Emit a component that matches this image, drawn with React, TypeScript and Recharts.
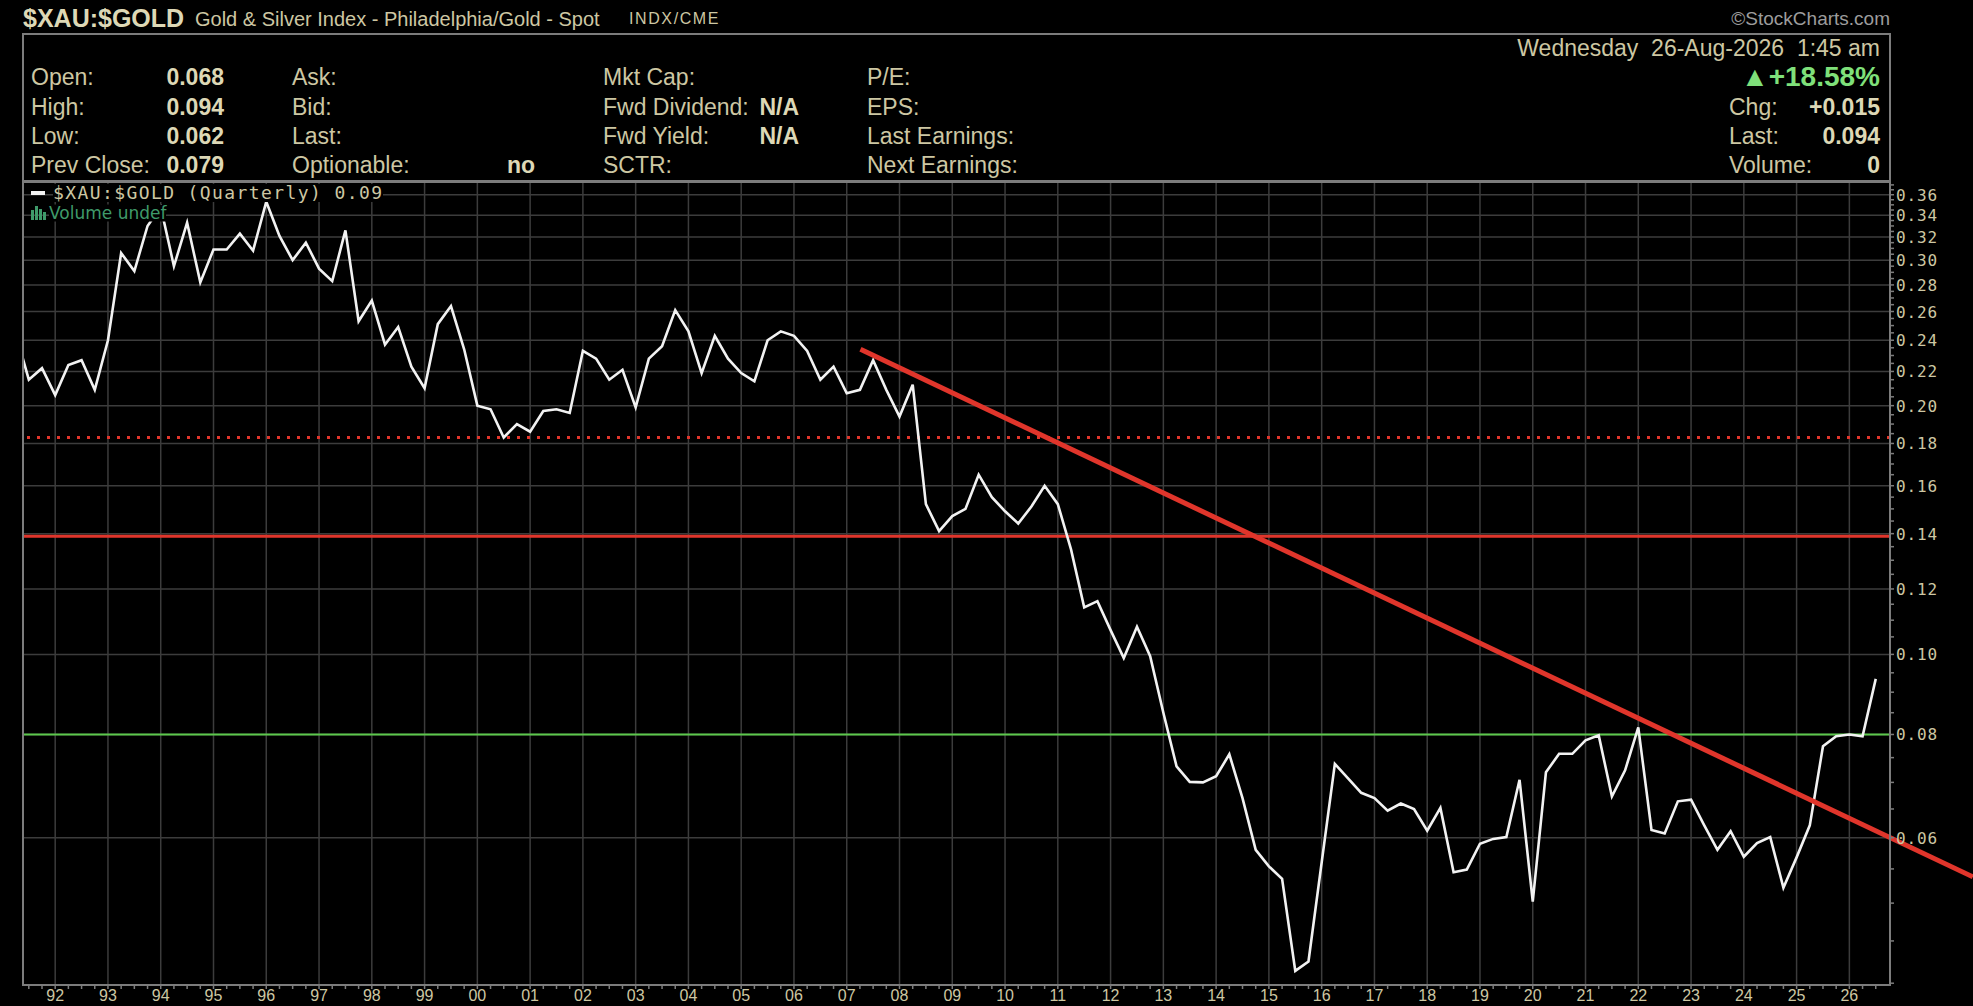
import React from "react";
import {
  LineChart,
  Line,
  XAxis,
  YAxis,
  CartesianGrid,
  ReferenceLine,
} from "recharts";

// quarterly closes of the $XAU:$GOLD ratio
const quarterLabels = [
  "1991Q2", "1991Q3", "1991Q4",
  "1992Q1", "1992Q2", "1992Q3", "1992Q4",
  "1993Q1", "1993Q2", "1993Q3", "1993Q4",
  "1994Q1", "1994Q2", "1994Q3", "1994Q4",
  "1995Q1", "1995Q2", "1995Q3", "1995Q4",
  "1996Q1", "1996Q2", "1996Q3", "1996Q4",
  "1997Q1", "1997Q2", "1997Q3", "1997Q4",
  "1998Q1", "1998Q2", "1998Q3", "1998Q4",
  "1999Q1", "1999Q2", "1999Q3", "1999Q4",
  "2000Q1", "2000Q2", "2000Q3", "2000Q4",
  "2001Q1", "2001Q2", "2001Q3", "2001Q4",
  "2002Q1", "2002Q2", "2002Q3", "2002Q4",
  "2003Q1", "2003Q2", "2003Q3", "2003Q4",
  "2004Q1", "2004Q2", "2004Q3", "2004Q4",
  "2005Q1", "2005Q2", "2005Q3", "2005Q4",
  "2006Q1", "2006Q2", "2006Q3", "2006Q4",
  "2007Q1", "2007Q2", "2007Q3", "2007Q4",
  "2008Q1", "2008Q2", "2008Q3", "2008Q4",
  "2009Q1", "2009Q2", "2009Q3", "2009Q4",
  "2010Q1", "2010Q2", "2010Q3", "2010Q4",
  "2011Q1", "2011Q2", "2011Q3", "2011Q4",
  "2012Q1", "2012Q2", "2012Q3", "2012Q4",
  "2013Q1", "2013Q2", "2013Q3", "2013Q4",
  "2014Q1", "2014Q2", "2014Q3", "2014Q4",
  "2015Q1", "2015Q2", "2015Q3", "2015Q4",
  "2016Q1", "2016Q2", "2016Q3", "2016Q4",
  "2017Q1", "2017Q2", "2017Q3", "2017Q4",
  "2018Q1", "2018Q2", "2018Q3", "2018Q4",
  "2019Q1", "2019Q2", "2019Q3", "2019Q4",
  "2020Q1", "2020Q2", "2020Q3", "2020Q4",
  "2021Q1", "2021Q2", "2021Q3", "2021Q4",
  "2022Q1", "2022Q2", "2022Q3", "2022Q4",
  "2023Q1", "2023Q2", "2023Q3", "2023Q4",
  "2024Q1", "2024Q2", "2024Q3", "2024Q4",
  "2025Q1", "2025Q2", "2025Q3", "2025Q4",
  "2026Q1", "2026Q2", "2026Q3",
];

const ratioValues = [
  0.245, 0.215, 0.222,
  0.206, 0.224, 0.227, 0.209,
  0.240, 0.306, 0.291, 0.330,
  0.348, 0.295, 0.333, 0.282,
  0.309, 0.309, 0.323, 0.308,
  0.353, 0.321, 0.300, 0.315,
  0.293, 0.283, 0.326, 0.253,
  0.268, 0.237, 0.249, 0.223,
  0.210, 0.251, 0.264, 0.234,
  0.200, 0.198, 0.183, 0.190,
  0.186, 0.197, 0.198, 0.196,
  0.233, 0.228, 0.215, 0.221,
  0.199, 0.228, 0.236, 0.261,
  0.246, 0.219, 0.243, 0.228,
  0.219, 0.214, 0.240, 0.246,
  0.243, 0.233, 0.215, 0.223,
  0.207, 0.209, 0.227, 0.209,
  0.194, 0.212, 0.152, 0.141,
  0.147, 0.150, 0.165, 0.155,
  0.149, 0.144, 0.151, 0.160,
  0.152, 0.134, 0.114, 0.116,
  0.107, 0.099, 0.108, 0.0995,
  0.085, 0.0732, 0.0701, 0.070,
  0.0712, 0.0757, 0.067, 0.058,
  0.0554, 0.0535, 0.0414, 0.0425,
  0.056, 0.0737, 0.0708, 0.068,
  0.067, 0.0647, 0.066, 0.065,
  0.0612, 0.0652, 0.0545, 0.0549,
  0.059, 0.0598, 0.0601, 0.0705,
  0.0502, 0.072, 0.0758, 0.0758,
  0.0787, 0.0798, 0.0673, 0.0724,
  0.0816, 0.0613, 0.0607, 0.0664,
  0.0667, 0.0621, 0.058, 0.0611,
  0.0569, 0.0591, 0.0601, 0.0522,
  0.0568, 0.0621, 0.0774, 0.0796,
  0.080, 0.0796, 0.0934,
];

const yearTicks = [
  1992, 1993, 1994, 1995, 1996, 1997, 1998, 1999, 2000, 2001, 2002, 2003,
  2004, 2005, 2006, 2007, 2008, 2009, 2010, 2011, 2012, 2013, 2014, 2015,
  2016, 2017, 2018, 2019, 2020, 2021, 2022, 2023, 2024, 2025, 2026,
];
const yearLabels = [
  "92", "93", "94", "95", "96", "97", "98", "99", "00", "01", "02", "03",
  "04", "05", "06", "07", "08", "09", "10", "11", "12", "13", "14", "15",
  "16", "17", "18", "19", "20", "21", "22", "23", "24", "25", "26",
];

const priceTicks = [
  0.06, 0.08, 0.1, 0.12, 0.14, 0.16, 0.18, 0.2, 0.22, 0.24, 0.26, 0.28, 0.3,
  0.32, 0.34, 0.36,
];
const priceLabels = [
  "0.06", "0.08", "0.10", "0.12", "0.14", "0.16", "0.18", "0.20", "0.22",
  "0.24", "0.26", "0.28", "0.30", "0.32", "0.34", "0.36",
];

// horizontal levels and the falling trend line drawn on the chart
const resistanceDotted = 0.183;
const resistanceSolid = 0.139;
const supportGreen = 0.08;
const trendStart = { x: 2007.26, y: 0.234 };
const trendEnd = { x: 2028.34, y: 0.0538 };

const infoLabels = [
  ["Open:", "High:", "Low:", "Prev Close:"],
  ["Ask:", "Bid:", "Last:", "Optionable:"],
  ["Mkt Cap:", "Fwd Dividend:", "Fwd Yield:", "SCTR:"],
  ["P/E:", "EPS:", "Last Earnings:", "Next Earnings:"],
];
const ohlcValues = ["0.068", "0.094", "0.062", "0.079"];
const rightLabels = ["Chg:", "Last:", "Volume:"];
const rightValues = ["+0.015", "0.094", "0"];

const W = 1973;
const H = 1006;
const PLOT_LEFT = 23;
const PLOT_TOP = 182;
const PLOT_RIGHT = 1890;
const PLOT_BOTTOM = 985;
const X_DOMAIN = [1991.39, 2026.77];
const Y_DOMAIN = [0.0398, 0.373];

const TAN = "#cdc7a3";
const TAN_BOLD = "#ddd8b6";
const GRID = "#3c3c3c";
const BORDER = "#7c7c7c";
const RED = "#e0352b";
const GREEN = "#5cc84c";
const SANS = "'Liberation Sans', Arial, sans-serif";
const MONO = "'DejaVu Sans Mono', monospace";

function quarterToNumber(label: string) {
  const year = Number(label.slice(0, 4));
  const q = Number(label.slice(5));
  return year + (q - 1) / 4;
}

const data = quarterLabels.map((label, i) => ({
  t: quarterToNumber(label),
  v: ratioValues[i],
}));

const xMinorTicks = data
  .map((d) => d.t)
  .filter((t) => t > X_DOMAIN[0] && t < X_DOMAIN[1]);

const yMinorTicks: number[] = [];
for (let k = 8; k <= 74; k++) {
  const v = Math.round(k * 0.005 * 1000) / 1000;
  if (v > Y_DOMAIN[0] && v < Y_DOMAIN[1]) yMinorTicks.push(v);
}

function Txt(props: {
  x: number;
  y: number;
  children: React.ReactNode;
  right?: boolean;
  size?: number;
  bold?: boolean;
  color?: string;
  family?: string;
  spacing?: number;
  bg?: string;
}) {
  const { x, y, right, size = 23, bold, color = TAN, family = SANS, spacing = 0, bg } = props;
  const style: React.CSSProperties = {
    position: "absolute",
    top: y,
    transform: "translateY(-50%)",
    fontSize: size,
    fontWeight: bold ? 700 : 400,
    color,
    fontFamily: family,
    letterSpacing: spacing,
    whiteSpace: "pre",
    lineHeight: 1,
    background: bg,
  };
  if (right) style.right = W - x;
  else style.left = x;
  return <div style={style}>{props.children}</div>;
}

function YearTick(props: any) {
  const { x, y, payload } = props;
  const idx = yearTicks.indexOf(payload.value);
  if (idx < 0) return null;
  return (
    <text
      x={x}
      y={y + 10}
      textAnchor="middle"
      fill={TAN}
      fontSize={16}
      fontFamily={SANS}
    >
      {yearLabels[idx]}
    </text>
  );
}

function PriceTick(props: any) {
  const { x, y, payload } = props;
  const idx = priceTicks.findIndex((p) => Math.abs(p - payload.value) < 1e-6);
  if (idx < 0) return null;
  return (
    <text
      x={x}
      y={y + 6}
      textAnchor="start"
      fill={TAN}
      fontSize={16}
      fontFamily={MONO}
      letterSpacing={0.9}
    >
      {priceLabels[idx]}
    </text>
  );
}

const rowY = [77, 107, 136, 165];
const colX = [31, 292, 603, 867];

export default function App() {
  return (
    <div
      style={{
        position: "relative",
        width: W,
        height: H,
        background: "#000",
        overflow: "hidden",
        fontFamily: SANS,
      }}
    >
      <style>{`body{margin:0;background:#000}`}</style>

      <div style={{ position: "absolute", left: 0, top: 0 }}>
        <LineChart
          width={W}
          height={H}
          data={data}
          margin={{ top: PLOT_TOP, right: 0, bottom: 0, left: PLOT_LEFT }}
        >
          <CartesianGrid
            stroke={GRID}
            strokeWidth={1.5}
            verticalValues={yearTicks}
            horizontalValues={priceTicks}
          />
          <XAxis
            dataKey="t"
            type="number"
            domain={X_DOMAIN}
            allowDataOverflow
            ticks={xMinorTicks}
            interval={0}
            height={H - PLOT_BOTTOM}
            axisLine={false}
            tickLine={{ stroke: BORDER, strokeWidth: 1.5 }}
            tickSize={4}
            tick={<YearTick />}
          />
          <YAxis
            orientation="right"
            type="number"
            scale="log"
            domain={Y_DOMAIN}
            allowDataOverflow
            ticks={yMinorTicks}
            interval={0}
            width={W - PLOT_RIGHT}
            axisLine={false}
            tickLine={{ stroke: BORDER, strokeWidth: 1.5 }}
            tickSize={4}
            tick={<PriceTick />}
          />
          <ReferenceLine
            y={resistanceDotted}
            stroke={RED}
            strokeWidth={3}
            strokeDasharray="3 7"
          />
          <ReferenceLine y={resistanceSolid} stroke={RED} strokeWidth={3} />
          <ReferenceLine y={supportGreen} stroke={GREEN} strokeWidth={2} />
          <Line
            dataKey="v"
            type="linear"
            stroke="#f2f2f2"
            strokeWidth={2.6}
            dot={false}
            isAnimationActive={false}
          />
          <ReferenceLine
            segment={[trendStart, trendEnd]}
            stroke={RED}
            strokeWidth={5}
            ifOverflow="visible"
          />
        </LineChart>
      </div>

      {/* panel borders */}
      <div
        style={{
          position: "absolute",
          left: PLOT_LEFT - 1,
          top: 33,
          width: PLOT_RIGHT - PLOT_LEFT + 2,
          height: PLOT_TOP - 33,
          border: `2px solid ${BORDER}`,
          boxSizing: "border-box",
        }}
      />
      <div
        style={{
          position: "absolute",
          left: PLOT_LEFT - 1,
          top: PLOT_TOP - 1,
          width: PLOT_RIGHT - PLOT_LEFT + 2,
          height: PLOT_BOTTOM - PLOT_TOP + 2,
          border: `2px solid ${BORDER}`,
          boxSizing: "border-box",
          pointerEvents: "none",
        }}
      />

      {/* title row */}
      <Txt x={23} y={18} size={25} bold color={TAN_BOLD}>
        $XAU:$GOLD
      </Txt>
      <Txt x={195} y={19} size={20}>
        Gold &amp; Silver Index - Philadelphia/Gold - Spot
      </Txt>
      <Txt x={629} y={19} size={16} spacing={1.6}>
        INDX/CME
      </Txt>
      <Txt x={1890} y={18} right size={19} color="#9c9c9c">
        ©StockCharts.com
      </Txt>

      {/* info panel */}
      {infoLabels.map((col, c) =>
        col.map((label, r) => (
          <Txt key={`${c}-${r}`} x={colX[c]} y={rowY[r]}>
            {label}
          </Txt>
        ))
      )}
      {ohlcValues.map((v, r) => (
        <Txt key={`ohlc-${r}`} x={224} y={rowY[r]} right bold color={TAN_BOLD}>
          {v}
        </Txt>
      ))}
      <Txt x={535} y={rowY[3]} right bold color={TAN_BOLD}>
        no
      </Txt>
      <Txt x={799} y={rowY[1]} right bold color={TAN_BOLD}>
        N/A
      </Txt>
      <Txt x={799} y={rowY[2]} right bold color={TAN_BOLD}>
        N/A
      </Txt>

      <Txt x={1880} y={48} right>
        {"Wednesday  26-Aug-2026  1:45 am"}
      </Txt>
      <Txt x={1880} y={77} right size={28} bold color="#7fe07a">
        ▲+18.58%
      </Txt>
      {rightLabels.map((label, i) => (
        <Txt key={`rl-${i}`} x={1729} y={rowY[i + 1]}>
          {label}
        </Txt>
      ))}
      {rightValues.map((v, i) => (
        <Txt key={`rv-${i}`} x={1880} y={rowY[i + 1]} right bold color={TAN_BOLD}>
          {v}
        </Txt>
      ))}

      {/* in-chart legend */}
      <div
        style={{
          position: "absolute",
          left: 31,
          top: 191,
          width: 14,
          height: 4,
          background: "#f2f2f2",
        }}
      />
      <Txt x={53} y={193} size={18} family={MONO} spacing={1.4} bg="#000">
        $XAU:$GOLD (Quarterly) 0.09
      </Txt>
      <svg
        style={{ position: "absolute", left: 30, top: 205 }}
        width={17}
        height={15}
      >
        <rect x={1} y={5} width={3} height={10} fill="#3f9a6a" />
        <rect x={5} y={1} width={3} height={14} fill="#3f9a6a" />
        <rect x={9} y={4} width={3} height={11} fill="#3f9a6a" />
        <rect x={13} y={7} width={3} height={8} fill="#3f9a6a" />
      </svg>
      <Txt x={49} y={213} size={17} family="'DejaVu Sans', sans-serif" color="#3f9a6a" bg="#000">
        Volume undef
      </Txt>
    </div>
  );
}
